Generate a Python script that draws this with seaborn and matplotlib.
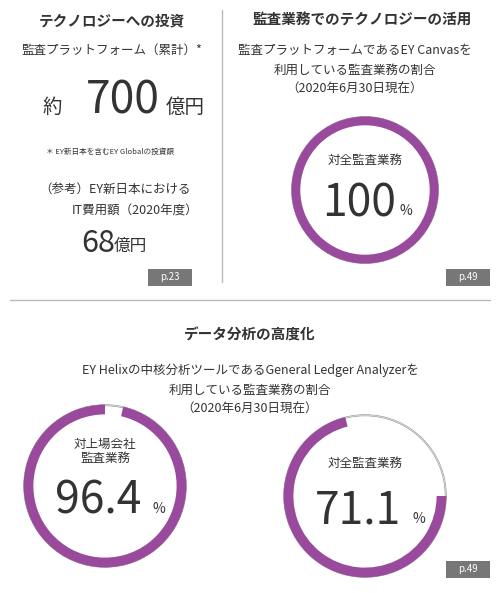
import matplotlib
matplotlib.use("Agg")
import matplotlib.pyplot as plt
import seaborn as sns
from matplotlib.patches import Rectangle

sns.set_theme(style="white")
plt.rcParams['font.family'] = ['Noto Sans CJK JP', 'DejaVu Sans']

labels = ["対全監査業務", "対上場会社\n監査業務", "対全監査業務"]
values = [100.0, 96.4, 71.1]
value_text = ["100", "96.4", "71.1"]
pages = ["p.23", "p.49", "p.49"]

PURPLE = "#9a4a9c"
GRAY = "#333333"
W, H = 500, 593
fig = plt.figure(figsize=(5, 5.93), dpi=100)
ax = fig.add_axes([0, 0, 1, 1])
ax.set_xlim(0, W); ax.set_ylim(H, 0); ax.axis("off")

def t(x, y, s, size, **kw):
    kw.setdefault("ha", "center"); kw.setdefault("va", "center")
    kw.setdefault("color", GRAY)
    ax.text(x, y, s, fontsize=size, **kw)

ax.plot([222, 222], [10, 282], color="#bbbbbb", lw=1)
ax.plot([10, 490], [300, 300], color="#bbbbbb", lw=1)

t(112, 20, "テクノロジーへの投資", 10.5, weight="bold")
t(112, 50, "監査プラットフォーム（累計）*", 9)
t(52, 107, "約", 14)
t(123, 100, "700", 32)
t(185, 107, "億円", 14)
t(110, 152, "＊ EY新日本を含むEY Globalの投資額", 5.5)
t(115, 190, "（参考）EY新日本における", 9)
t(135, 211, "IT費用額（2020年度）", 9)
t(98, 243, "68", 22)
t(130, 246, "億円", 12)

t(362, 20, "監査業務でのテクノロジーの活用", 10.5, weight="bold")
t(355, 50, "監査プラットフォームであるEY Canvasを", 9)
t(355, 70, "利用している監査業務の割合", 9)
t(355, 89, "（2020年6月30日現在）", 9)

t(250, 335, "データ分析の高度化", 10.5, weight="bold")
t(250, 370, "EY Helixの中核分析ツールであるGeneral Ledger Analyzerを", 9)
t(250, 390, "利用している監査業務の割合", 9)
t(250, 409, "（2020年6月30日現在）", 9)

for (x, y), p in zip([(148, 269), (446, 269), (446, 561)], pages):
    ax.add_patch(Rectangle((x, y), 44, 17, color="#777777", lw=0))
    ax.text(x + 22, y + 8.5, p, fontsize=7, color="white", ha="center", va="center")

centers = [(365, 190, 75), (105, 486, 83), (365, 496, 83)]
starts = [90, 90, 0]
ccw = [False, True, False]
for (cx, cy, r), v, lab, vt, st, cc in zip(centers, values, labels, value_text, starts, ccw):
    dax = fig.add_axes([(cx - r) / W, 1 - (cy + r) / H, 2 * r / W, 2 * r / H])
    dax.set_aspect("equal"); dax.axis("off")
    dax.pie([100], radius=1, colors=["white"],
            wedgeprops=dict(width=0.015, edgecolor="#999999", linewidth=0.5))
    dax.pie([v, 100 - v] if v < 100 else [v], radius=1, startangle=st, counterclock=cc,
            colors=[PURPLE, "none"], wedgeprops=dict(width=0.12, linewidth=0))
    dax.set_xlim(-1.02, 1.02); dax.set_ylim(-1.02, 1.02)
    ny = 0.42 if "\n" in lab else 0.4
    dax.text(0, ny, lab, fontsize=9, ha="center", va="center", color=GRAY, linespacing=1.1)
    dax.text(-0.08, -0.18, vt, fontsize=32, ha="center", va="center", color=GRAY)
    dax.text(0.66 if len(vt) > 3 else 0.55, -0.28, "%", fontsize=10, ha="center", va="center", color=GRAY)

fig.savefig("out.png", dpi=100, facecolor="white")
